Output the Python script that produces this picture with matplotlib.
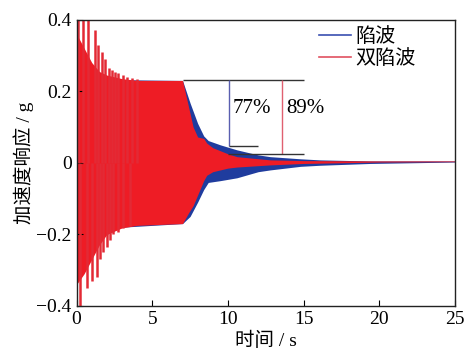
import numpy as np
import matplotlib
matplotlib.use('Agg')
import matplotlib.pyplot as plt
from matplotlib.lines import Line2D
from matplotlib.ticker import FuncFormatter

plt.rcParams['font.family'] = ['Liberation Serif', 'Noto Sans CJK SC']
plt.rcParams['axes.unicode_minus'] = True

#Envelope of the notch filter response (陷波)
blue_t = [0.0, 3.0, 7.0, 7.5, 8.0, 8.4, 8.7, 9.5, 10.6, 12.0, 12.8, 14.8, 16.1, 19.4, 25.0]
blue_hi = [0.26, 0.232, 0.23, 0.167, 0.11, 0.075, 0.062, 0.05, 0.036, 0.022, 0.017, 0.011, 0.008, 0.005, 0.005]
blue_lo = [-0.24, -0.18, -0.17, -0.15, -0.11, -0.075, -0.055, -0.05, -0.042, -0.025, -0.02, -0.01, -0.007, -0.002, 0.002]

#Envelope of the double notch response (双陷波)
red_t = [0.0, 0.5, 1.0, 1.5, 2.0, 3.0, 4.0, 7.0, 7.4, 7.7, 8.0, 8.4, 8.6, 9.0, 10.0, 10.6, 12.8, 15.0, 20.0, 25.0]
red_hi = [0.36, 0.32, 0.28, 0.255, 0.245, 0.235, 0.23, 0.23, 0.156, 0.10, 0.072, 0.068, 0.055, 0.042, 0.025, 0.017, 0.008, 0.006, 0.005, 0.005]
red_lo = [-0.34, -0.31, -0.27, -0.23, -0.2, -0.182, -0.175, -0.17, -0.14, -0.12, -0.09, -0.05, -0.035, -0.025, -0.015, -0.012, -0.006, -0.002, 0.002, 0.003]

#Start-up transient spikes (time, peak)
spike_up_t = [0.11, 0.44, 0.77, 1.21, 1.43, 1.69, 1.87, 2.14, 2.31, 2.53, 2.75, 3.04, 3.30, 3.64, 3.97]
spike_up_v = [0.42, 0.42, 0.42, 0.37, 0.33, 0.31, 0.29, 0.265, 0.26, 0.253, 0.25, 0.245, 0.24, 0.237, 0.235]
spike_dn_t = [0.22, 0.66, 0.99, 1.32, 1.54, 1.76, 1.98, 2.20, 2.42, 2.75, 3.08, 3.52]
spike_dn_v = [-0.42, -0.35, -0.33, -0.32, -0.27, -0.25, -0.235, -0.216, -0.20, -0.193, -0.183, -0.178]

#Attenuation marks
level_top = 0.23
level_notch = 0.047
level_double = 0.024
x_notch = 10.1
x_double = 13.55

blue = '#1f3c9e'
red = '#ee1c25'

fig = plt.figure(figsize=(4.67, 3.5), dpi=100)
ax = fig.add_axes([0.164, 0.126, 0.81, 0.818])

ax.fill_between(blue_t, blue_lo, blue_hi, color=blue, lw=0)
ax.fill_between(red_t, red_lo, red_hi, color=red, lw=0)
ax.vlines(spike_up_t, 0, spike_up_v, color='#e32a35', lw=1.8)
ax.vlines(spike_dn_t, spike_dn_v, 0, color='#e32a35', lw=1.8)

ax.hlines(level_top, 7.0, 15.0, color='#333333', lw=1)
ax.vlines(x_notch, level_notch, level_top, color='#5a5fb0', lw=1)
ax.hlines(level_notch, x_notch, 12.0, color='#333333', lw=1)
ax.vlines(x_double, level_double, level_top, color='#e06070', lw=1)
ax.hlines(level_double, 10.0, 15.0, color='#333333', lw=1)
ax.text(10.3, 0.152, '77%', fontsize=15, va='center')
ax.text(13.85, 0.152, '89%', fontsize=15, va='center')

handles = [Line2D([], [], color='#3a4fb0', lw=1.2), Line2D([], [], color='#e05060', lw=1.2)]
ax.legend(handles, ['陷波', '双陷波'], loc='upper left', bbox_to_anchor=(0.62, 1.0), frameon=False,
          fontsize=14.5, handlelength=1.6, handletextpad=0.2, labelspacing=0.15, borderaxespad=0)

ax.set_xlim(0, 25)
ax.set_ylim(-0.4, 0.4)
ax.set_xticks([0, 5, 10, 15, 20, 25])
ax.set_yticks([-0.4, -0.2, 0, 0.2, 0.4])
ax.yaxis.set_major_formatter(FuncFormatter(lambda v, p: '0' if abs(v) < 1e-9 else ('%.1f' % v).replace('-', '\u2212')))
ax.tick_params(direction='in', length=4, labelsize=14, top=False, right=False)
for s in ax.spines.values():
    s.set_linewidth(1.0)
    s.set_color('#222222')
ax.set_xlabel('时间 / s', fontsize=14, labelpad=3)
ax.set_ylabel('加速度响应 / g', fontsize=14, labelpad=2)

fig.savefig('out.png', dpi=100)
